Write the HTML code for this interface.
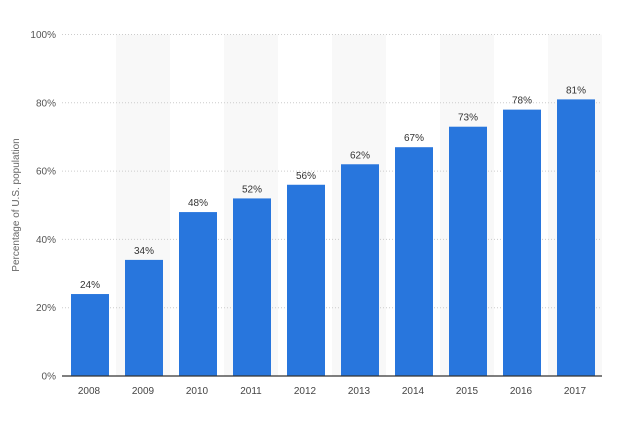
<!DOCTYPE html>
<html><head><meta charset="utf-8"><style>
body{margin:0;background:#fff;}
svg{display:block;font-family:"Liberation Sans",sans-serif;}
</style></head><body>
<svg id="c" width="620" height="421">
<text transform="translate(19,205) rotate(-90)" text-anchor="middle" font-size="10" fill="#666">Percentage of U.S. population</text>
</svg>
<script>
const categories=["2008","2009","2010","2011","2012","2013","2014","2015","2016","2017"];
const values=[24,34,48,52,56,62,67,73,78,81];
const yTicks=[0,20,40,60,80,100];
const svg=document.getElementById('c');
const NS='http://www.w3.org/2000/svg';
const x0=62,bw=54,yTop=34.5,yBot=376,yMax=100;
const y=v=>yBot-(v/yMax)*(yBot-yTop);
const x=i=>x0+i*bw;
function mk(t,a){const e=document.createElementNS(NS,t);for(const k in a)e.setAttribute(k,a[k]);svg.appendChild(e);return e;}
categories.forEach((c,i)=>{if(i%2===1){const r=mk('rect',{x:x(i),y:yTop,width:bw,height:yBot-yTop,fill:'#f8f8f8'});

}});
yTicks.forEach(t=>{const l=mk('line',{x1:x0,x2:x0+bw*categories.length,y1:y(t),y2:y(t),stroke:'#ccc','stroke-dasharray':'1,2'});


const tx=mk('text',{x:x0-6,y:y(t)+3.5,'text-anchor':'end','font-size':'10',fill:'#555'});tx.textContent=t+'%';

});
categories.forEach((c,i)=>{const v=values[i];
const r=mk('rect',{x:x(i)+9,y:y(v),width:38,height:yBot-y(v),fill:'#2876dd'});


const lb=mk('text',{x:x(i)+28,y:y(v)-6,'text-anchor':'middle','font-size':'10',fill:'#333'});lb.textContent=v+'%';


const xl=mk('text',{x:x(i)+27,y:yBot+18,'text-anchor':'middle','font-size':'10',fill:'#444'});xl.textContent=c;

});
const ax=mk('line',{x1:x0,x2:x0+bw*categories.length,y1:yBot,y2:yBot,stroke:'#333','stroke-width':1.2});


</script>
</body></html>
